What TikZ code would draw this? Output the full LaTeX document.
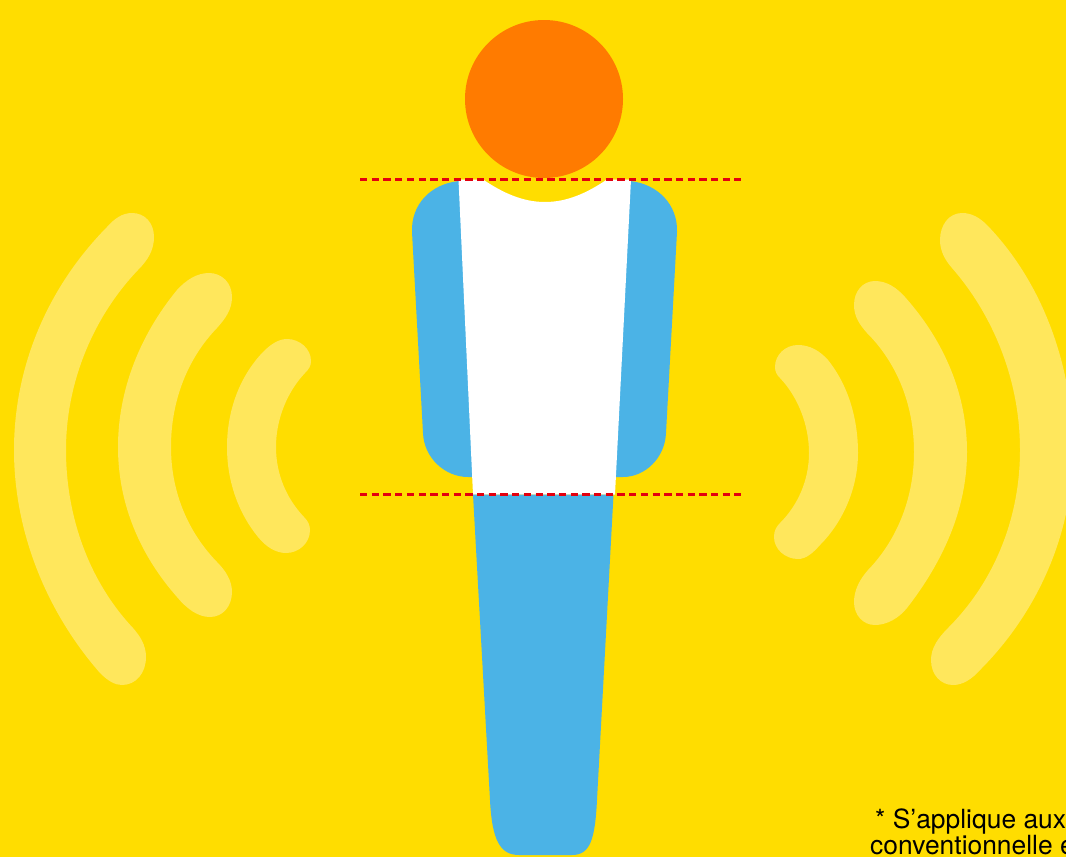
\documentclass[tikz,border=0pt]{standalone}
\usepackage{fontspec}
\setmainfont{TeX Gyre Heros}
\definecolor{bgyellow}{HTML}{FFDD00}
\definecolor{wave}{HTML}{FFE75C}
\definecolor{headorange}{HTML}{FF7B00}
\definecolor{bodyblue}{HTML}{4BB3E6}
\definecolor{cutred}{HTML}{E3000F}
\tikzset{
  wavearc/.style={fill=wave,draw=none},
  bodypart/.style={fill=bodyblue,draw=none},
  cutline/.style={draw=cutred,line width=2.2pt,dash pattern=on 7.3pt off 4.4pt},
  note/.style={inner sep=0pt,anchor=base west,font=\fontsize{26.4}{26.4}\selectfont,text=black}
}
\begin{document}
\begin{tikzpicture}[x=1pt,y=-1pt]
\useasboundingbox (0,0) rectangle (1066,857);
\begin{scope}
\clip (0,0) rectangle (1066,857);
\fill[bgyellow] (0,0) rectangle (1066,857);
% left waves
\path[wavearc] (107,227) .. controls (45,290) and (14,370) .. (14,450) .. controls (14,530) and (45,610) .. (100,673)
  .. controls (108,681) and (115,685) .. (122,685) .. controls (136,685) and (146,673) .. (146,657) .. controls (146,645) and (140,636) .. (133,628)
  .. controls (88,580) and (66,515) .. (66,450) .. controls (66,380) and (95,315) .. (138,270)
  .. controls (148,260) and (154,250) .. (154,237) .. controls (154,223) and (145,213) .. (132,213) .. controls (122,213) and (114,219) .. (107,227) -- cycle;
\path[wavearc] (177,290) .. controls (140,335) and (118,390) .. (118,447) .. controls (118,504) and (140,555) .. (177,597)
  .. controls (187,609) and (198,617) .. (210,617) .. controls (223,617) and (232,606) .. (232,592) .. controls (232,580) and (225,570) .. (217,562)
  .. controls (188,532) and (171,492) .. (171,447) .. controls (171,400) and (188,358) .. (217,328)
  .. controls (225,319) and (232,310) .. (232,297) .. controls (232,283) and (222,273) .. (209,273) .. controls (197,273) and (186,280) .. (177,290) -- cycle;
\path[wavearc] (263,352) .. controls (240,376) and (227,410) .. (227,447) .. controls (227,484) and (240,515) .. (258,537)
  .. controls (266,547) and (276,553) .. (286,553) .. controls (299,553) and (310,543) .. (310,530) .. controls (310,525) and (308,521) .. (304,517)
  .. controls (287,499) and (276,475) .. (276,447) .. controls (276,418) and (288,391) .. (305,373)
  .. controls (309,369) and (311,366) .. (311,361) .. controls (311,349) and (300,339) .. (287,339) .. controls (278,339) and (270,345) .. (263,352) -- cycle;
% right waves
\path[wavearc] (828,360) .. controls (848,385) and (858,418) .. (858,453) .. controls (858,488) and (843,522) .. (820,545)
  .. controls (813,553) and (806,559) .. (798,559) .. controls (785,559) and (774,549) .. (774,537) .. controls (774,531) and (776,527) .. (780,523)
  .. controls (798,505) and (809,480) .. (809,453) .. controls (809,425) and (798,397) .. (780,378)
  .. controls (777,375) and (775,372) .. (775,367) .. controls (775,355) and (785,345) .. (798,345) .. controls (810,345) and (820,351) .. (828,360) -- cycle;
\path[wavearc] (905,297) .. controls (945,342) and (967,395) .. (967,452) .. controls (967,510) and (942,563) .. (907,608)
  .. controls (899,618) and (887,625) .. (875,625) .. controls (863,625) and (854,615) .. (854,602) .. controls (854,590) and (860,579) .. (868,570)
  .. controls (897,540) and (914,498) .. (914,452) .. controls (914,405) and (897,363) .. (867,333)
  .. controls (860,325) and (854,317) .. (854,305) .. controls (854,291) and (863,281) .. (875,281) .. controls (887,281) and (897,288) .. (905,297) -- cycle;
\path[wavearc] (987,225) .. controls (1045,285) and (1073,370) .. (1073,450) .. controls (1073,530) and (1040,610) .. (980,670)
  .. controls (972,679) and (963,685) .. (953,685) .. controls (941,685) and (931,675) .. (931,660) .. controls (931,648) and (938,638) .. (948,628)
  .. controls (993,583) and (1020,520) .. (1020,450) .. controls (1020,380) and (993,315) .. (952,268)
  .. controls (945,260) and (940,251) .. (940,240) .. controls (940,225) and (949,213) .. (962,213) .. controls (972,213) and (980,218) .. (987,225) -- cycle;
% body
\path[bodypart] (459,181) .. controls (430,184) and (411,205) .. (412,232) -- (423,433) .. controls (424,458) and (445,477) .. (468,477) -- (474,477) -- cycle;
\path[bodypart] (630,181) .. controls (658,184) and (678,205) .. (677,232) -- (666,433) .. controls (665,458) and (645,477) .. (623,477) -- (615,477) -- cycle;
\path[fill=white] (458.5,179.5) -- (483,179.5) .. controls (503,193) and (523,202) .. (545,202) .. controls (567,202) and (587,193) .. (607,179.5) -- (631,179.5) -- (615,494.5) -- (473,494.5) -- cycle;
\path[bodypart] (473,494.5) -- (490,800) .. controls (492,840) and (500,855) .. (519,855) -- (572,855) .. controls (590,855) and (595,840) .. (597,800) -- (613.5,494.5) -- cycle;
\node[circle,fill=headorange,draw=none,minimum size=158pt,inner sep=0pt] (head) at (544,99) {};
% cut lines
\coordinate (topL) at (360,179.5);
\coordinate (topR) at (741,179.5);
\coordinate (botL) at (360,494.5);
\coordinate (botR) at (741,494.5);
\draw[cutline] (topL) -- (topR);
\draw[cutline] (botL) -- (botR);
% note
\node[note] (noteA) at (875,828) {* S’applique aux};
\node[note] (noteB) at (870,854) {conventionnelle e};
\end{scope}
\end{tikzpicture}
\end{document}
